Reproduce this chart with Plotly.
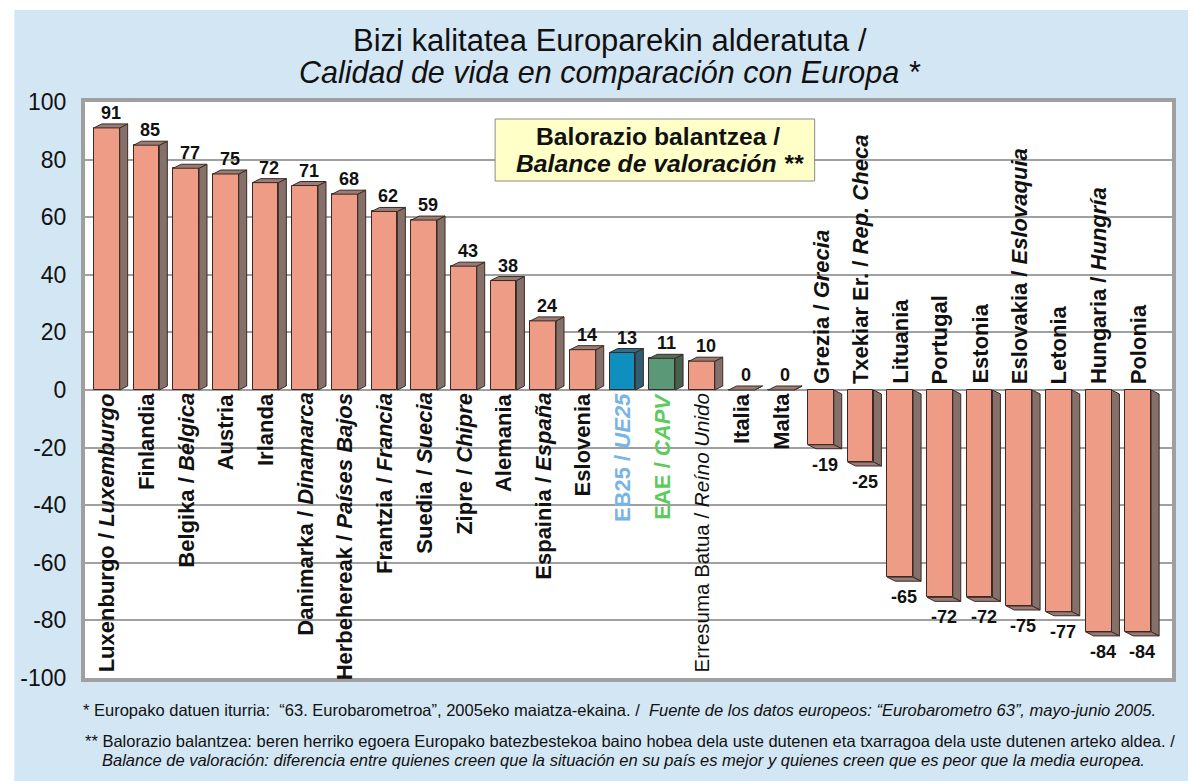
import plotly.graph_objects as go

# ---------------- data ----------------
categories = [
    "Luxenburgo / <i>Luxemburgo</i>", "Finlandia", "Belgika / <i>Bélgica</i>", "Austria", "Irlanda",
    "Danimarka / <i>Dinamarca</i>", "Herbehereak / <i>Países Bajos</i>", "Frantzia / <i>Francia</i>",
    "Suedia / <i>Suecia</i>", "Zipre / <i>Chipre</i>", "Alemania", "Espainia / <i>España</i>",
    "Eslovenia", "EB25 / <i>UE25</i>", "EAE / <i>CAPV</i>", "Erresuma Batua / <i>Reíno Unido</i>",
    "Italia", "Malta", "Grezia / <i>Grecia</i>", "Txekiar Er. / <i>Rep. Checa</i>", "Lituania",
    "Portugal", "Estonia", "Eslovakia / <i>Eslovaquia</i>", "Letonia", "Hungaria / <i>Hungría</i>",
    "Polonia",
]
values = [91, 85, 77, 75, 72, 71, 68, 62, 59, 43, 38, 24, 14, 13, 11, 10, 0, 0,
          -19, -25, -65, -72, -72, -75, -77, -84, -84]
y_ticks = [100, 80, 60, 40, 20, 0, -20, -40, -60, -80, -100]

title_line1 = "Bizi kalitatea Europarekin alderatuta /"
title_line2 = "<i>Calidad de vida en comparación con Europa *</i>"
box_line1 = "<b>Balorazio balantzea /</b>"
box_line2 = "<b><i>Balance de valoración **</i></b>"
note1 = ("* Europako datuen iturria:  “63. Eurobarometroa”, 2005eko maiatza-ekaina. /  "
         "<i>Fuente de los datos europeos: “Eurobarometro 63”, mayo-junio 2005.</i>")
note2 = ("** Balorazio balantzea: beren herriko egoera Europako batezbestekoa baino hobea dela uste "
         "dutenen eta txarragoa dela uste dutenen arteko aldea. /")
note3 = ("<i>Balance de valoración: diferencia entre quienes creen que la situación en su país es "
         "mejor y quienes creen que es peor que la media europea.</i>")

# ---------------- styling ----------------
SALMON = "#EE9C86"
BLUE = "#0E8FC0"
GREEN = "#5B9878"
bar_colors = [SALMON] * len(values)
bar_colors[13] = BLUE
bar_colors[14] = GREEN
side_map = {SALMON: "#86706A", BLUE: "#2E5E74", GREEN: "#45624F"}
top_map = {SALMON: "#9A7C74", BLUE: "#2F6E8A", GREEN: "#4F705B"}
label_colors = ["#111111"] * len(values)
label_colors[13] = "#78B4E4"
label_colors[14] = "#5CCB5C"

FONT = "Liberation Sans, Arial, sans-serif"
W, H = 1196, 781
OFF = 8                      # page body margin (screen px -> figure px)
L, R, T, B = 80 - OFF, 1172 - OFF, 102 - OFF, 678 - OFF   # plot area in figure px
x_range = [-0.55, 26.85]
y_range = [-100, 100]
py_per_unit = (B - T) / (y_range[1] - y_range[0])


def px_x(sx):
    return (sx - OFF - L) / (R - L)


def px_y(sy):
    return (B - (sy - OFF)) / (B - T)


BAR_W = 0.65
DX = 0.2                 # depth in category units
DY = 4 / py_per_unit     # depth in value units

fig = go.Figure()
xs = list(range(len(values)))
fig.add_trace(go.Bar(
    x=xs, y=values, width=BAR_W,
    marker=dict(color=bar_colors, line=dict(color="#3a2a26", width=1)),
    hoverinfo="skip",
))

# 3D side and end faces
for i, v in enumerate(values):
    s = 1 if v >= 0 else -1
    xl, xr = i - BAR_W / 2, i + BAR_W / 2
    side_x = [xr, xr + DX, xr + DX, xr, xr]
    side_y = [0, s * DY, v + s * DY, v, 0]
    end_x = [xl, xl + DX, xr + DX, xr, xl]
    end_y = [v, v + s * DY, v + s * DY, v, v]
    fig.add_trace(go.Scatter(x=side_x, y=side_y, fill="toself", mode="lines",
                             fillcolor=side_map[bar_colors[i]],
                             line=dict(color="#3a2a26", width=1), hoverinfo="skip"))
    fig.add_trace(go.Scatter(x=end_x, y=end_y, fill="toself", mode="lines",
                             fillcolor=top_map[bar_colors[i]],
                             line=dict(color="#3a2a26", width=1), hoverinfo="skip"))

annotations = []
for i, v in enumerate(values):
    # value labels
    annotations.append(dict(
        x=i + 0.1, y=v, xref="x", yref="y", text="<b>%d</b>" % v, showarrow=False,
        font=dict(family=FONT, size=18, color="#111111"),
        yanchor="bottom" if v >= 0 else "top", xanchor="center",
        yshift=3 if v >= 0 else -8,
    ))
    # category labels
    if i == 15:
        txt = categories[i]
        size = 20.5
    else:
        txt = "<b>%s</b>" % categories[i]
        size = 22
    annotations.append(dict(
        x=i, y=0, xref="x", yref="y", text=txt, showarrow=False, textangle=-90,
        font=dict(family=FONT, size=size, color=label_colors[i]),
        yanchor="top" if v >= 0 else "bottom", xanchor="center",
        yshift=-1 if v >= 0 else 4,
    ))

# title
annotations.append(dict(x=px_x(607), y=px_y(40), xref="paper", yref="paper", text=title_line1,
                        showarrow=False, font=dict(family=FONT, size=31, color="#111111"),
                        xanchor="center", yanchor="middle"))
annotations.append(dict(x=px_x(607), y=px_y(72), xref="paper", yref="paper", text=title_line2,
                        showarrow=False, font=dict(family=FONT, size=30.5, color="#111111"),
                        xanchor="center", yanchor="middle"))
# box text
annotations.append(dict(x=px_x(656), y=px_y(137), xref="paper", yref="paper", text=box_line1,
                        showarrow=False, font=dict(family=FONT, size=24.7, color="#111111"),
                        xanchor="center", yanchor="middle"))
annotations.append(dict(x=px_x(658), y=px_y(164), xref="paper", yref="paper", text=box_line2,
                        showarrow=False, font=dict(family=FONT, size=24.7, color="#111111"),
                        xanchor="center", yanchor="middle"))
# footnotes
for txt, x0, y0 in [(note1, 76, 710), (note2, 78, 741), (note3, 95, 760)]:
    annotations.append(dict(x=px_x(x0), y=px_y(y0), xref="paper", yref="paper", text=txt,
                            showarrow=False, font=dict(family=FONT, size=16.5, color="#111111"),
                            xanchor="left", yanchor="middle"))

shapes = [
    # thin white strips top / left
    dict(type="rect", xref="paper", yref="paper", x0=px_x(0), x1=px_x(W + 20), y0=px_y(0), y1=px_y(10),
         fillcolor="white", line=dict(width=0), layer="below"),
    dict(type="rect", xref="paper", yref="paper", x0=px_x(0), x1=px_x(9), y0=px_y(0), y1=px_y(H + 20),
         fillcolor="white", line=dict(width=0), layer="below"),
    # legend-like box
    dict(type="rect", xref="paper", yref="paper", x0=px_x(492), x1=px_x(813), y0=px_y(119), y1=px_y(181),
         fillcolor="#FFFFC8", line=dict(color="#8a8a8a", width=1), layer="above"),
]

fig.update_layout(
    width=W, height=H,
    margin=dict(l=L, r=W - R, t=T, b=H - B, pad=0),
    paper_bgcolor="#D3E6F4", plot_bgcolor="white",
    showlegend=False, bargap=0,
    font=dict(family=FONT, color="#111111"),
    annotations=annotations, shapes=shapes,
    xaxis=dict(range=x_range, showticklabels=False, showgrid=False, zeroline=False,
               showline=True, mirror=True, linewidth=4, linecolor="#A0A0A0", fixedrange=True),
    yaxis=dict(range=y_range, tickvals=y_ticks, ticktext=[str(t) for t in y_ticks],
               tickfont=dict(family=FONT, size=23, color="#111111"),
               showgrid=True, gridcolor="#A0A0A0", gridwidth=2,
               zeroline=True, zerolinecolor="#A0A0A0", zerolinewidth=2,
               showline=True, mirror=True, linewidth=4, linecolor="#A0A0A0",
               ticks="", ticklabelstandoff=10, fixedrange=True),
)

fig.write_html("out.html")
